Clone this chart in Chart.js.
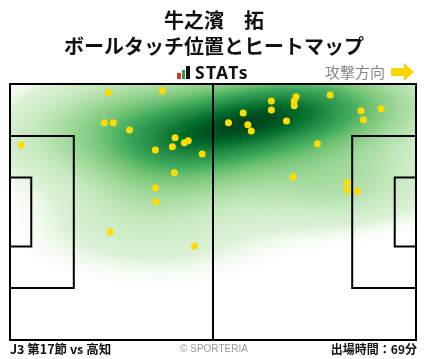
<!DOCTYPE html>
<html>
<head>
<meta charset="utf-8">
<script src="https://cdn.jsdelivr.net/npm/chart.js@4.4.0/dist/chart.umd.min.js"></script>
<style>
  body { margin: 0; background: #fff; }
  #wrap { position: relative; width: 428px; height: 359px; overflow: hidden; }
  #chart { position: absolute; left: 0; top: 0; }
  .t { position: absolute; white-space: nowrap; font-family: "Noto Sans CJK JP", sans-serif; }
  .title { left: 0; width: 428px; text-align: center; font-size: 20px; font-weight: 700; color: #111; line-height: 26px; }
</style>
</head>
<body>
<div id="wrap">
  <canvas id="chart" width="428" height="359"></canvas>
  <div class="t title" style="top:7px">牛之濱　拓</div>
  <div class="t title" style="top:33px">ボールタッチ位置とヒートマップ</div>
  <div class="t" style="left:177px; top:63px; height:18px;">
    <span style="position:absolute;left:0;top:10px;width:4px;height:6px;background:#e0312b"></span>
    <span style="position:absolute;left:5px;top:7px;width:3px;height:9px;background:#2e9c3c"></span>
    <span style="position:absolute;left:9px;top:3px;width:4px;height:13px;background:#111"></span>
  </div>
  <div class="t" style="left:195px; top:61px; font-family:'Noto Sans',sans-serif; font-weight:700; font-size:17.5px; line-height:22px; color:#111; letter-spacing:1.3px">STATs</div>
  <div class="t" style="left:325px; top:62px; font-size:15px; line-height:20px; color:#888">攻撃方向</div>
  <svg class="t" style="left:391px; top:62px" width="24" height="20" viewBox="0 0 24 20">
    <polygon points="0,6 13,6 13,1 23,10 13,19 13,14 0,14" fill="#f7d500"/>
  </svg>
  <div class="t" style="left:10px; top:340px; font-size:12.5px; font-weight:700; line-height:18px; color:#111">J3 第17節 vs 高知</div>
  <div class="t" style="left:0; width:428px; text-align:center; top:341px; font-family:'Liberation Sans',sans-serif; font-size:10px; line-height:16px; color:#999">© SPORTERIA</div>
  <div class="t" style="right:11px; top:340px; font-size:12px; font-weight:700; line-height:18px; color:#111">出場時間：69分</div>
</div>
<script>
// ball touch positions (metres, x = attack direction, y from top touchline)
const touchX = [25.4, 39.4, 24.4, 26.7, 30.9, 2.9, 42.7, 42.0, 45.1, 46.1, 37.6, 49.7,
                42.5, 37.6, 37.8, 25.9, 47.7, 82.8, 74.0, 73.5, 73.5, 67.6, 67.6, 60.3,
                56.5, 61.5, 62.4, 71.5, 90.8, 96.0, 91.4, 79.5, 73.2, 87.2, 87.2, 89.8];
const touchY = [2.3, 1.8, 10.3, 10.3, 12.2, 16.2, 14.3, 16.7, 15.6, 15.1, 17.5, 18.6,
                23.6, 27.6, 31.3, 39.3, 43.1, 2.9, 3.4, 4.5, 5.8, 4.5, 6.9, 7.7,
                10.3, 10.8, 12.5, 9.8, 7.1, 6.6, 9.5, 15.9, 24.7, 26.3, 28.2, 28.4];

const PITCH_L = 105;
const PITCH_W = 68;

const points = touchX.map((x, i) => ({ x: x, y: touchY[i] }));

// gaussian kde (scott's rule, widened a bit) built from the touches
function makeKde(xs, ys, widen) {
    const n = xs.length;
    const mx = xs.reduce((a, b) => a + b, 0) / n;
    const my = ys.reduce((a, b) => a + b, 0) / n;
    let sxx = 0, syy = 0, sxy = 0;
    for (let i = 0; i < n; i++) {
        sxx += (xs[i] - mx) ** 2;
        syy += (ys[i] - my) ** 2;
        sxy += (xs[i] - mx) * (ys[i] - my);
    }
    const f2 = Math.pow(n, -1 / 3) * widen * widen;
    const a = sxx / (n - 1) * f2, d = syy / (n - 1) * f2, b = sxy / (n - 1) * f2;
    const det = a * d - b * b;
    const ia = d / det, id = a / det, ib = -b / det;
    return function (x, y) {
        let s = 0;
        for (let i = 0; i < n; i++) {
            const dx = x - xs[i], dy = y - ys[i];
            s += Math.exp(-0.5 * (ia * dx * dx + 2 * ib * dx * dy + id * dy * dy));
        }
        return s;
    };
}

const greens = [
    [0.00, [247, 252, 245]],
    [0.12, [229, 245, 224]],
    [0.30, [199, 233, 192]],
    [0.45, [161, 217, 155]],
    [0.60, [116, 196, 118]],
    [0.72, [65, 171, 93]],
    [0.84, [35, 139, 69]],
    [0.93, [0, 109, 44]],
    [1.00, [0, 68, 27]]
];

function greenAt(t) {
    for (let i = 1; i < greens.length; i++) {
        if (t <= greens[i][0]) {
            const [t0, c0] = greens[i - 1];
            const [t1, c1] = greens[i];
            const k = (t - t0) / (t1 - t0);
            return c0.map((v, j) => Math.round(v + (c1[j] - v) * k));
        }
    }
    return greens[greens.length - 1][1];
}

const heatmapPlugin = {
    id: 'heatmap',
    beforeDatasetsDraw(chart) {
        const { ctx, chartArea, scales } = chart;
        const kde = makeKde(touchX, touchY, 1.3);
        const step = 2;
        const vals = [];
        let max = 0;
        for (let py = chartArea.top; py < chartArea.bottom; py += step) {
            for (let px = chartArea.left; px < chartArea.right; px += step) {
                const v = kde(scales.x.getValueForPixel(px + step / 2), scales.y.getValueForPixel(py + step / 2));
                vals.push([px, py, v]);
                if (v > max) max = v;
            }
        }
        ctx.save();
        for (const [px, py, v] of vals) {
            const r = v / max;
            if (r < 0.03) continue;
            const t = Math.pow(r, 0.8);
            const alpha = Math.min(1, (r - 0.03) / 0.08);
            const c = greenAt(t);
            ctx.fillStyle = `rgba(${c[0]},${c[1]},${c[2]},${alpha})`;
            ctx.fillRect(px, py, step, step);
        }
        ctx.restore();

        // pitch markings
        const X = v => scales.x.getPixelForValue(v);
        const Y = v => scales.y.getPixelForValue(v);
        const boxD = 16.5, boxW = 40.32, gaD = 5.5, gaW = 18.32;
        ctx.save();
        ctx.strokeStyle = '#000';
        ctx.lineWidth = 2;
        ctx.strokeRect(X(0), Y(0), X(PITCH_L) - X(0), Y(PITCH_W) - Y(0));
        ctx.beginPath();
        ctx.moveTo(X(PITCH_L / 2), Y(0));
        ctx.lineTo(X(PITCH_L / 2), Y(PITCH_W));
        ctx.stroke();
        [[boxD, boxW], [gaD, gaW]].forEach(([depth, width]) => {
            const y0 = Y((PITCH_W - width) / 2), y1 = Y((PITCH_W + width) / 2);
            ctx.beginPath();
            ctx.moveTo(X(0), y0);
            ctx.lineTo(X(depth), y0);
            ctx.lineTo(X(depth), y1);
            ctx.lineTo(X(0), y1);
            ctx.moveTo(X(PITCH_L), y0);
            ctx.lineTo(X(PITCH_L - depth), y0);
            ctx.lineTo(X(PITCH_L - depth), y1);
            ctx.lineTo(X(PITCH_L), y1);
            ctx.stroke();
        });
        ctx.restore();
    }
};

new Chart(document.getElementById('chart').getContext('2d'), {
    type: 'scatter',
    data: {
        datasets: [{
            data: points,
            backgroundColor: '#ffdc00',
            borderWidth: 0,
            pointRadius: 3.5
        }]
    },
    options: {
        responsive: false,
        animation: false,
        layout: { padding: { left: 10, right: 12, top: 84, bottom: 19 } },
        scales: {
            x: { display: false, min: 0, max: PITCH_L },
            y: { display: false, min: 0, max: PITCH_W, reverse: true }
        },
        plugins: {
            legend: { display: false },
            tooltip: { enabled: false }
        }
    },
    plugins: [heatmapPlugin]
});
</script>
</body>
</html>
